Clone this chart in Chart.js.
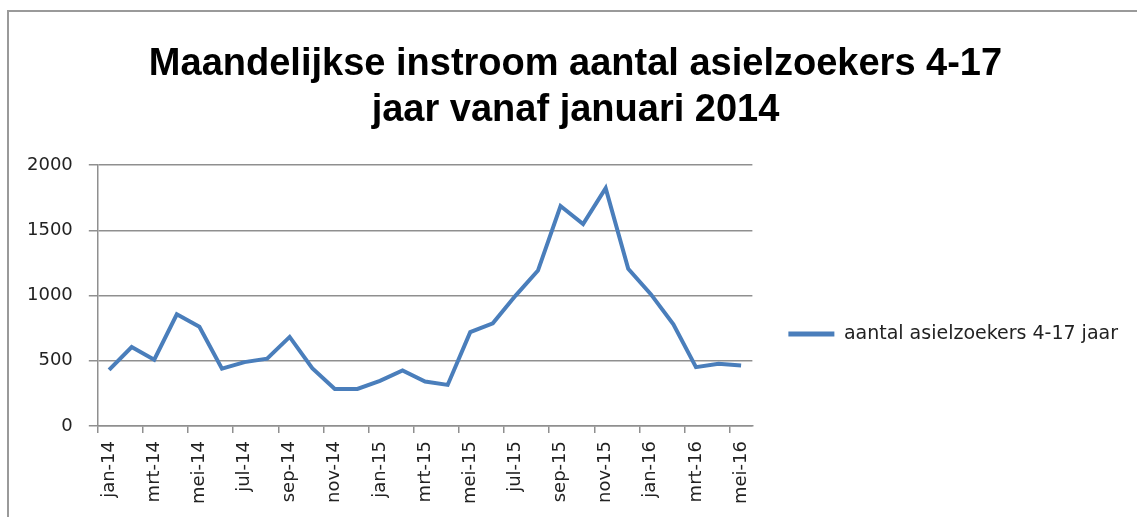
<!DOCTYPE html>
<html><head><meta charset="utf-8">
<script src="https://cdn.jsdelivr.net/npm/chart.js@4"></script>
<style>
html,body{margin:0;padding:0;background:#fff;overflow:hidden}
#wrap{position:absolute;left:0;top:0;width:1137px;height:517px;overflow:hidden}
#frame{position:absolute;left:7px;top:10px;width:1200px;height:600px;border-left:2px solid #9a9a9a;border-top:2px solid #9a9a9a}
canvas{position:absolute;left:0;top:0}
</style></head><body>
<div id="wrap"><div id="frame"></div><canvas id="c" width="1137" height="517"></canvas></div>
<script>
const categories = ['jan-14','feb-14','mrt-14','apr-14','mei-14','jun-14','jul-14','aug-14','sep-14','okt-14','nov-14','dec-14',
  'jan-15','feb-15','mrt-15','apr-15','mei-15','jun-15','jul-15','aug-15','sep-15','okt-15','nov-15','dec-15',
  'jan-16','feb-16','mrt-16','apr-16','mei-16'];
const values = [431,606,508,857,761,439,490,516,683,443,284,284,
  346,426,341,315,720,787,998,1192,1687,1548,1824,1205,
  1011,779,451,477,464];
const seriesName = 'aantal asielzoekers 4-17 jaar';
const titleLines = ['Maandelijkse instroom aantal asielzoekers 4-17','jaar vanaf januari 2014'];
const yTicks = [0,500,1000,1500,2000];

const axisFont = {family:'DejaVu Sans', size:18};
const gridGray = '#8f8f8f';
const blue = '#4a7ebb';

const boxShift = {
  id:'boxShift',
  afterLayout(chart){
    const l = chart.legend;
    if (l) { l.top += 78; l.bottom += 78; }
    const t = chart.titleBlock;
    if (t) { t.left += 6; t.right += 6; }
  }
};

new Chart(document.getElementById('c'), {
  type:'line',
  data:{labels:categories, datasets:[{label:seriesName, data:values, borderColor:blue, backgroundColor:blue,
    borderWidth:4, pointRadius:0, tension:0, borderJoinStyle:'miter', fill:false}]},
  options:{
    responsive:false, animation:false,
    layout:{padding:{left:11, right:9, top:0, bottom:5}},
    plugins:{
      title:{display:true, text:titleLines, color:'#000',
        font:{family:"'Liberation Sans', sans-serif", size:38, weight:'bold', lineHeight:1.2},
        padding:{top:42, bottom:32}},
      legend:{position:'right', align:'center', maxWidth:500,
        labels:{boxWidth:46, boxHeight:5, color:'#222', font:{family:'DejaVu Sans', size:19}, padding:36,
          generateLabels:(chart)=>Chart.defaults.plugins.legend.labels.generateLabels(chart).map(l=>Object.assign(l,{lineWidth:0, fillStyle:blue}))}},
      tooltip:{enabled:false}
    },
    scales:{
      x:{offset:true,
        grid:{offset:true, drawOnChartArea:false, drawTicks:true, tickLength:7, lineWidth:1.5,
          color:(ctx)=> (ctx.index % 2 === 0) ? gridGray : 'rgba(0,0,0,0)'},
        border:{display:true, color:gridGray, width:1.5},
        ticks:{autoSkip:false, maxRotation:90, minRotation:90, color:'#222', font:axisFont, padding:8,
          callback:(v,i)=> (i % 2 === 0) ? categories[i] : ''}},
      y:{min:0, max:2000,
        afterBuildTicks:(s)=>{ s.ticks = yTicks.map(v=>({value:v})); },
        grid:{color:gridGray, lineWidth:1.5, tickLength:9},
        border:{display:true, color:gridGray, width:1.5},
        ticks:{color:'#222', font:axisFont, padding:16, callback:(v)=>String(v)}}
    }
  },
  plugins:[boxShift]
});
</script>
</body></html>
